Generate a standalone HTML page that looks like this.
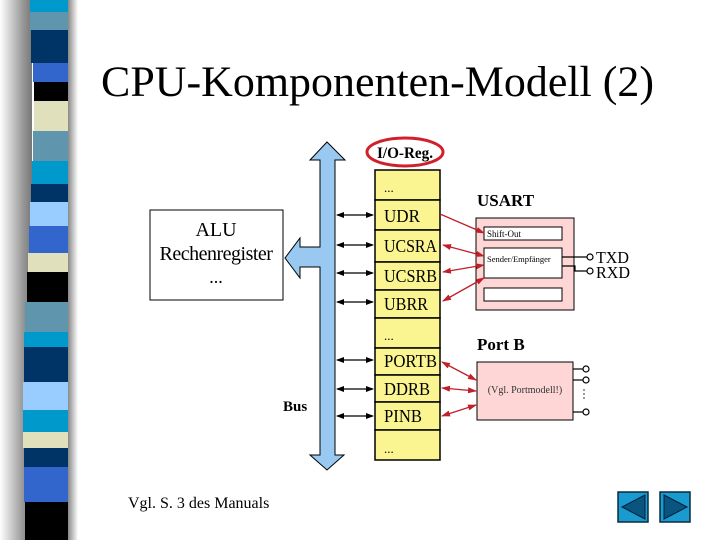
<!DOCTYPE html>
<html><head><meta charset="utf-8"><style>html,body{margin:0;padding:0;background:#fff}svg{display:block}</style></head><body>
<svg width="720" height="540" viewBox="0 0 720 540" xmlns="http://www.w3.org/2000/svg" font-family="Liberation Serif, serif">
<defs>
<linearGradient id="sh" x1="0" x2="1"><stop offset="0" stop-color="#fff"/><stop offset="0.7" stop-color="#9a9a9a"/><stop offset="1" stop-color="#777"/></linearGradient>
<linearGradient id="sh2" x1="0" x2="1"><stop offset="0" stop-color="#888"/><stop offset="1" stop-color="#fff"/></linearGradient>
<marker id="ab" markerWidth="8" markerHeight="8" refX="7" refY="4" orient="auto-start-reverse" markerUnits="userSpaceOnUse"><path d="M0,1 L8,4 L0,7 Z" fill="#000"/></marker>
<marker id="ar" markerWidth="9" markerHeight="8" refX="8" refY="4" orient="auto-start-reverse" markerUnits="userSpaceOnUse"><path d="M0,1 L9,4 L0,7 Z" fill="#c0202a"/></marker>
</defs>
<rect x="0" y="0" width="32" height="540" fill="url(#sh)"/>
<rect x="68" y="0" width="10" height="540" fill="url(#sh2)"/>
<g>
<rect x="30" y="0" width="38" height="12" fill="#0099cc"/>
<rect x="30" y="12" width="38" height="18" fill="#5f96ae"/>
<rect x="31" y="30" width="37" height="33" fill="#003366"/>
<rect x="33" y="63" width="35" height="19" fill="#3366cc"/>
<rect x="34" y="82" width="34" height="19" fill="#000"/>
<rect x="34" y="101" width="34" height="30" fill="#e0e0bc"/>
<rect x="33" y="131" width="35" height="30" fill="#5f96ae"/>
<rect x="32" y="161" width="36" height="23" fill="#0099cc"/>
<rect x="31" y="184" width="37" height="18" fill="#003366"/>
<rect x="30" y="202" width="38" height="24" fill="#99ccff"/>
<rect x="29" y="226" width="39" height="27" fill="#3366cc"/>
<rect x="28" y="253" width="40" height="19" fill="#e0e0bc"/>
<rect x="27" y="272" width="41" height="30" fill="#000"/>
<rect x="25" y="302" width="43" height="30" fill="#5f96ae"/>
<rect x="24" y="332" width="44" height="15" fill="#0099cc"/>
<rect x="24" y="347" width="44" height="35" fill="#003366"/>
<rect x="23" y="382" width="45" height="28" fill="#99ccff"/>
<rect x="23" y="410" width="45" height="22" fill="#0099cc"/>
<rect x="23" y="432" width="45" height="16" fill="#e0e0bc"/>
<rect x="24" y="448" width="44" height="19" fill="#003366"/>
<rect x="24" y="467" width="44" height="35" fill="#3366cc"/>
<rect x="25" y="502" width="43" height="38" fill="#000"/>
</g>
<text x="101" y="96" font-size="43" textLength="553" lengthAdjust="spacingAndGlyphs">CPU-Komponenten-Modell (2)</text>

<!-- ALU -->
<rect x="150" y="210" width="133" height="90" fill="#fff" stroke="#000"/>
<text x="216" y="236" font-size="20" text-anchor="middle">ALU</text>
<text x="216" y="260" font-size="20" text-anchor="middle" letter-spacing="-0.5">Rechenregister</text>
<text x="216" y="283" font-size="18" text-anchor="middle">...</text>

<!-- Bus -->
<path d="M327,142 L345,160 L335,160 L335,455 L344,455 L327,470 L310,455 L320,455 L320,267 L300,267 L300,278 L285,258 L300,238 L300,247 L320,247 L320,160 L310,160 Z" fill="#99c8f0" stroke="#000" stroke-width="1"/>
<text x="283" y="411" font-size="15" font-weight="bold">Bus</text>

<!-- I/O Reg ellipse -->
<ellipse cx="405" cy="152" rx="38" ry="14" fill="none" stroke="#d0202a" stroke-width="3"/>
<text x="377" y="158" font-size="16" font-weight="bold" textLength="56" lengthAdjust="spacingAndGlyphs">I/O-Reg.</text>

<!-- Registers -->
<g stroke="#000" stroke-width="1.5" fill="#faf590">
<rect x="375" y="170" width="65" height="30"/>
<rect x="375" y="200" width="65" height="30"/>
<rect x="375" y="230" width="65" height="32"/>
<rect x="375" y="262" width="65" height="28"/>
<rect x="375" y="290" width="65" height="28"/>
<rect x="375" y="318" width="65" height="30"/>
<rect x="375" y="348" width="65" height="27"/>
<rect x="375" y="375" width="65" height="27"/>
<rect x="375" y="402" width="65" height="28"/>
<rect x="375" y="430" width="65" height="30"/>
</g>
<g font-size="18">
<text x="384" y="192" font-size="13">...</text>
<text x="384" y="222" textLength="36" lengthAdjust="spacingAndGlyphs">UDR</text>
<text x="384" y="252" textLength="53" lengthAdjust="spacingAndGlyphs">UCSRA</text>
<text x="384" y="282" textLength="53" lengthAdjust="spacingAndGlyphs">UCSRB</text>
<text x="384" y="310" textLength="44" lengthAdjust="spacingAndGlyphs">UBRR</text>
<text x="384" y="340" font-size="13">...</text>
<text x="384" y="367" textLength="53" lengthAdjust="spacingAndGlyphs">PORTB</text>
<text x="384" y="395" textLength="46" lengthAdjust="spacingAndGlyphs">DDRB</text>
<text x="384" y="422" textLength="38" lengthAdjust="spacingAndGlyphs">PINB</text>
<text x="384" y="453" font-size="13">...</text>
</g>

<!-- black double arrows -->
<g stroke="#000" stroke-width="1.2" marker-start="url(#ab)" marker-end="url(#ab)">
<line x1="337" y1="215" x2="373" y2="215"/>
<line x1="337" y1="245" x2="373" y2="245"/>
<line x1="337" y1="273" x2="373" y2="273"/>
<line x1="337" y1="302" x2="373" y2="302"/>
<line x1="337" y1="360" x2="373" y2="360"/>
<line x1="337" y1="389" x2="373" y2="389"/>
<line x1="337" y1="416" x2="373" y2="416"/>
</g>

<!-- USART -->
<text x="477" y="206" font-size="17" font-weight="bold">USART</text>
<rect x="476" y="218" width="98" height="92" fill="#ffd6d6" stroke="#000"/>
<rect x="484" y="227" width="78" height="13" fill="#fff" stroke="#000"/>
<text x="487" y="237" font-size="9">Shift-Out</text>
<rect x="484" y="248" width="78" height="30" fill="#fff" stroke="#000"/>
<text x="487" y="262" font-size="8.5">Sender/Empfänger</text>
<rect x="484" y="288" width="78" height="13" fill="#fff" stroke="#000"/>
<g stroke="#000" fill="#fff" stroke-width="1.2">
<polyline points="562,257 587,257" fill="none"/>
<polyline points="562,266 575,266 575,271 587,271" fill="none"/>
<circle cx="590" cy="257" r="3"/>
<circle cx="590" cy="271" r="3"/>
</g>
<text x="596" y="263" font-size="17" textLength="33" lengthAdjust="spacingAndGlyphs">TXD</text>
<text x="596" y="278" font-size="17" textLength="34" lengthAdjust="spacingAndGlyphs">RXD</text>

<g stroke="#c0202a" stroke-width="1.3">
<line x1="440" y1="214" x2="484" y2="233" marker-end="url(#ar)"/>
<line x1="443" y1="245" x2="484" y2="256" marker-start="url(#ar)" marker-end="url(#ar)"/>
<line x1="443" y1="272" x2="484" y2="265" marker-start="url(#ar)" marker-end="url(#ar)"/>
<line x1="443" y1="301" x2="484" y2="278" marker-start="url(#ar)" marker-end="url(#ar)"/>
</g>

<!-- Port B -->
<text x="477" y="350" font-size="17" font-weight="bold">Port B</text>
<rect x="477" y="362" width="96" height="58" fill="#ffd6d6" stroke="#000"/>
<text x="525" y="393" font-size="10" text-anchor="middle" fill="#333">(Vgl. Portmodell!)</text>
<g stroke="#000" fill="#fff" stroke-width="1.2">
<line x1="573" y1="369" x2="583" y2="369"/>
<line x1="573" y1="380" x2="583" y2="380"/>
<line x1="573" y1="412" x2="583" y2="412"/>
<circle cx="586" cy="369" r="3"/>
<circle cx="586" cy="380" r="3"/>
<circle cx="586" cy="412" r="3"/>
</g>
<g fill="#000"><circle cx="584" cy="390" r="0.7"/><circle cx="584" cy="394" r="0.7"/><circle cx="584" cy="398" r="0.7"/></g>
<g stroke="#c0202a" stroke-width="1.3" marker-start="url(#ar)" marker-end="url(#ar)">
<line x1="442" y1="362" x2="476" y2="380"/>
<line x1="442" y1="388" x2="476" y2="391"/>
<line x1="442" y1="416" x2="476" y2="405"/>
</g>

<text x="128" y="508" font-size="16">Vgl. S. 3 des Manuals</text>

<!-- nav buttons -->
<rect x="618" y="492" width="30" height="30" fill="#1a9bd0" stroke="#0a2a40" stroke-width="1.5"/>
<path d="M622,507 L645,495 L645,519 Z" fill="#0a5580" stroke="#02203a"/>
<rect x="660" y="492" width="30" height="30" fill="#1a9bd0" stroke="#0a2a40" stroke-width="1.5"/>
<path d="M687,507 L664,495 L664,519 Z" fill="#0a5580" stroke="#02203a"/>
</svg>
</body></html>
